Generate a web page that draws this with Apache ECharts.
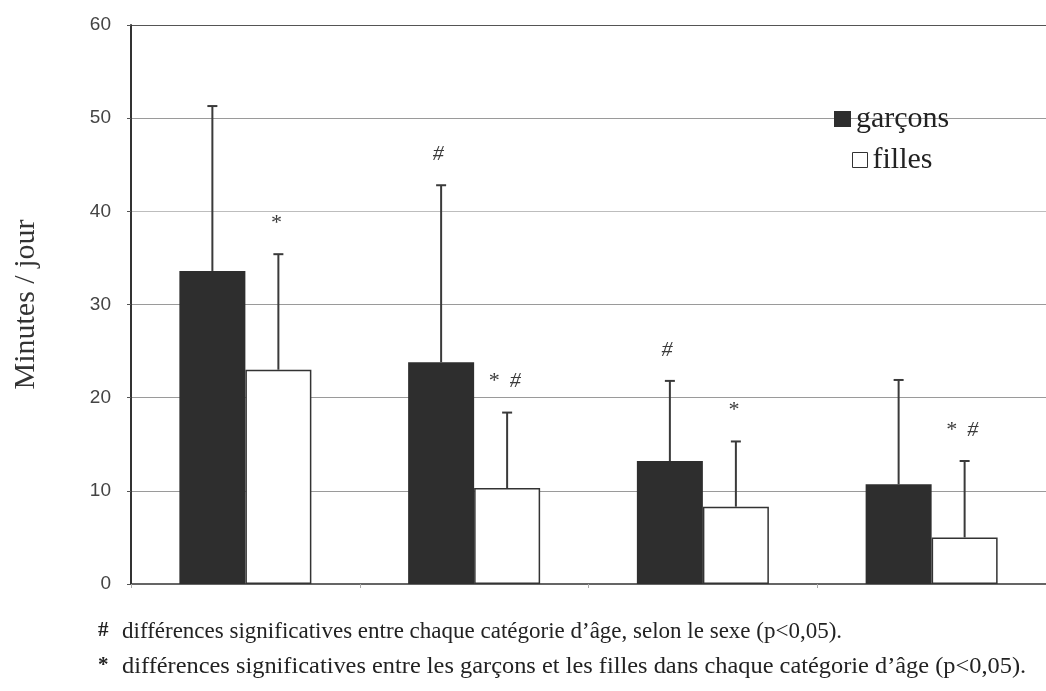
<!DOCTYPE html>
<html>
<head>
<meta charset="utf-8">
<script src="https://cdn.jsdelivr.net/npm/echarts@6/dist/echarts.min.js"></script>
<style>
html,body{margin:0;padding:0;background:#fff;}
#chart{width:1046px;height:691px;}
</style>
</head>
<body>
<div id="chart"></div>
<script>
// ---- data ----
var categories = ['1', '2', '3', '4'];
var garconsMean = [33.6, 23.8, 13.2, 10.7];
var garconsSD   = [17.7, 19.0, 8.6, 11.2];
var fillesMean  = [23.0, 10.3, 8.3, 5.0];
var fillesSD    = [12.4, 8.1, 7.0, 8.2];
var garconsMarks = ['', '#', '#', ''];
var fillesMarks  = ['*', '*  #', '*', '*  #'];
var yTicks = [0, 10, 20, 30, 40, 50, 60];
var footnotes = [
  ['#', 'différences significatives entre chaque catégorie d\u2019âge, selon le sexe (p<0,05).'],
  ['*', 'différences significatives entre les garçons et les filles dans chaque catégorie d\u2019âge (p<0,05).']
];

var BAR_W = 66;
var SERIF = '"Liberation Serif", "Times New Roman", serif';
var SANS = '"Liberation Sans", Arial, sans-serif';
var FOOT_SCALE = [1, 1.06];

function errData(means, sds, marks) {
  return means.map(function (m, i) { return [i, m, m + sds[i], marks[i]]; });
}

function makeErr(offset) {
  return function (params, api) {
    var x = api.value(0);
    var p0 = api.coord([x, api.value(1)]);
    var p1 = api.coord([x, api.value(2)]);
    var cx = p0[0] + offset;
    var mark = String(api.value(3) || '');
    var children = [
      { type: 'line', shape: { x1: cx, y1: p0[1], x2: cx, y2: p1[1] },
        style: { stroke: '#3a3a3a', lineWidth: 2 } },
      { type: 'line', shape: { x1: cx - 5, y1: p1[1], x2: cx + 5, y2: p1[1] },
        style: { stroke: '#3a3a3a', lineWidth: 2 } }
    ];
    if (mark) {
      children.push({ type: 'text', x: cx - 3, y: p1[1] - 31,
        style: { text: mark, fill: '#3a3a3a', font: 'italic 22px ' + SERIF,
                 align: 'center', verticalAlign: 'middle' } });
    }
    return { type: 'group', children: children };
  };
}

var chart = echarts.init(document.getElementById('chart'));
var gridLineColors = ['#fff', '#9a9a9a', '#9a9a9a', '#9a9a9a', '#bdbdbd', '#9a9a9a', '#555'];

chart.setOption({
  animation: false,
  backgroundColor: '#fff',
  grid: { left: 131, top: 25, width: 922, height: 559 },
  legend: [
    { data: ['garçons'], left: 829, top: 99, itemWidth: 17, itemHeight: 16, itemGap: 12,
      textStyle: { fontFamily: SERIF, fontSize: 30, color: '#222' },
      itemStyle: { color: '#2e2e2e', borderWidth: 0 }, icon: 'rect' },
    { data: ['filles'], left: 847, top: 140, itemWidth: 15, itemHeight: 15, itemGap: 14,
      textStyle: { fontFamily: SERIF, fontSize: 30, color: '#222' },
      itemStyle: { color: '#fff', borderColor: '#333', borderWidth: 1 }, icon: 'rect' }
  ],
  xAxis: {
    type: 'category', data: categories,
    axisLine: { lineStyle: { color: '#333', width: 1.5 } },
    axisTick: { show: true, length: 4, lineStyle: { color: '#aaa' } },
    axisLabel: { show: false }
  },
  yAxis: {
    type: 'value', min: 0, max: 60, interval: 10,
    name: 'Minutes / jour', nameLocation: 'middle', nameGap: 90, nameRotate: 90,
    nameTextStyle: { fontFamily: SERIF, fontSize: 30, color: '#333' },
    axisLine: { show: true, lineStyle: { color: '#333', width: 2 } },
    axisTick: { show: true, length: 4, lineStyle: { color: '#555' } },
    axisLabel: { fontFamily: SANS, fontSize: 19, color: '#444', margin: 20,
      formatter: function (v) { return yTicks.indexOf(v) >= 0 ? String(v) : ''; } },
    splitLine: { show: true, lineStyle: { color: gridLineColors, width: 1.2 } }
  },
  series: [
    { name: 'garçons', type: 'bar', data: garconsMean, barWidth: BAR_W, barGap: '0%',
      itemStyle: { color: '#2e2e2e' }, z: 2 },
    { name: 'filles', type: 'bar', data: fillesMean, barWidth: BAR_W, barGap: '0%',
      itemStyle: { color: '#fff', borderColor: '#333', borderWidth: 1.5 }, z: 2 },
    { type: 'custom', renderItem: makeErr(-BAR_W / 2), data: errData(garconsMean, garconsSD, garconsMarks),
      encode: { x: 0, y: [1, 2] }, z: 3 },
    { type: 'custom', renderItem: makeErr(BAR_W / 2), data: errData(fillesMean, fillesSD, fillesMarks),
      encode: { x: 0, y: [1, 2] }, z: 3 }
  ],
  graphic: footnotes.map(function (f, i) {
    return { type: 'group', left: 98, top: 620 + i * 35, children: [
      { type: 'text', x: 0, y: 0, style: { text: f[0], font: 'bold 21px ' + SERIF, fill: '#222' } },
      { type: 'text', x: 24, y: 0, scaleX: FOOT_SCALE[i], style: { text: f[1], font: '23px ' + SERIF, fill: '#222' } }
    ]};
  })
});
</script>
</body>
</html>
